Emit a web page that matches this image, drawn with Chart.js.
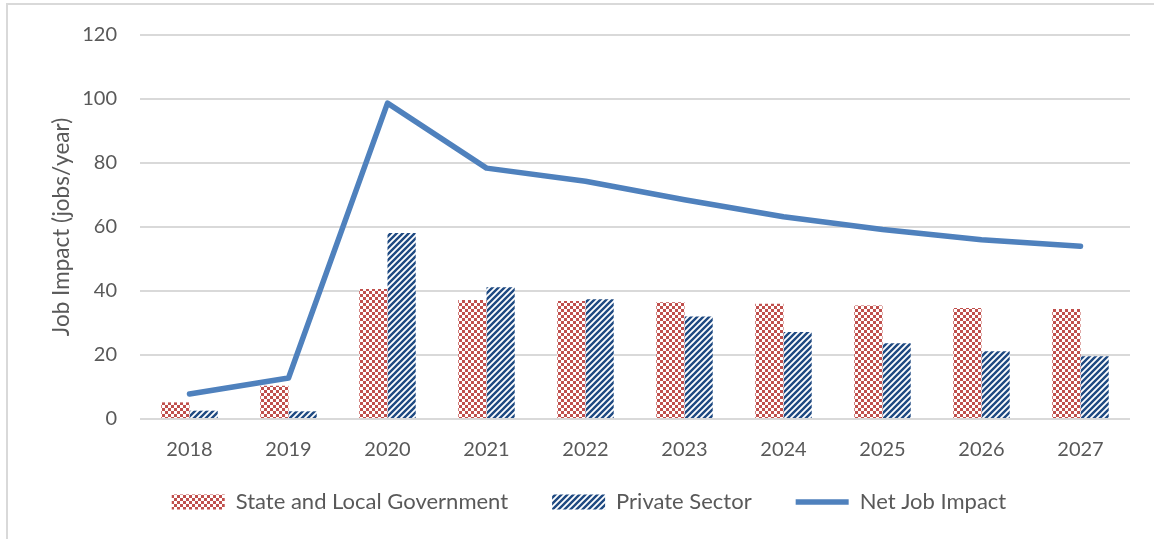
<!DOCTYPE html>
<html>
<head>
<meta charset="utf-8">
<script src="https://cdn.jsdelivr.net/npm/chart.js@4.4.0/dist/chart.umd.min.js"></script>
<style>
  html, body { margin: 0; padding: 0; background: #fff; overflow: hidden; }
  #frame { position: absolute; left: 6px; top: 3px; width: 1200px; height: 600px; border: 2px solid #d9d9d9; }
  #wrap { position: absolute; left: 0; top: 0; width: 1154px; height: 539px; }
</style>
</head>
<body>
<div id="frame"></div>
<div id="wrap"><canvas id="chart"></canvas></div>
<script>
// job impact chart
const years = ['2018', '2019', '2020', '2021', '2022', '2023', '2024', '2025', '2026', '2027'];
const stateLocal = [5.2, 10.4, 40.6, 37.2, 36.9, 36.5, 36.0, 35.5, 34.7, 34.4];
const privateSector = [2.6, 2.4, 58.1, 41.2, 37.4, 32.0, 27.2, 23.7, 21.2, 19.6];
const netImpact = [7.8, 12.8, 98.7, 78.4, 74.3, 68.5, 63.2, 59.2, 56.0, 54.0];
const yTicks = [0, 20, 40, 60, 80, 100, 120];

const TEXT = '#595959';
const FONT = "Lato, 'Noto Sans', sans-serif";

function checkerPattern(color) {
  const c = 3;
  const t = document.createElement('canvas');
  t.width = 2 * c; t.height = 2 * c;
  const g = t.getContext('2d');
  g.fillStyle = '#fff';
  g.fillRect(0, 0, 2 * c, 2 * c);
  g.fillStyle = color;
  g.fillRect(0, 0, c, c);
  g.fillRect(c, c, c, c);
  return g.createPattern(t, 'repeat');
}

function stripePattern(color) {
  const s = 6;
  const t = document.createElement('canvas');
  t.width = s; t.height = s;
  const g = t.getContext('2d');
  g.fillStyle = '#fff';
  g.fillRect(0, 0, s, s);
  g.strokeStyle = color;
  g.lineWidth = 2.4;
  g.beginPath();
  g.moveTo(-s, s); g.lineTo(s, -s);
  g.moveTo(0, 2 * s); g.lineTo(2 * s, 0);
  g.moveTo(-s / 2, s * 1.5); g.lineTo(s * 1.5, -s / 2);
  g.stroke();
  return g.createPattern(t, 'repeat');
}

// legend sits a bit higher than its layout box (keeps wide item spacing)
const legendShift = {
  id: 'legendShift',
  afterLayout(chart) {
    const lg = chart.legend;
    if (!lg) return;
    lg.top -= 15;
    lg.bottom -= 15;
  }
};

Chart.defaults.font.family = FONT;
Chart.defaults.color = TEXT;

new Chart(document.getElementById('chart'), {
  data: {
    labels: years,
    datasets: [
      {
        type: 'bar',
        label: 'State and Local Government',
        data: stateLocal,
        backgroundColor: checkerPattern('#c0504d'),
        pointStyle: 'rect',
        barPercentage: 1,
        categoryPercentage: 0.57,
        order: 2
      },
      {
        type: 'bar',
        label: 'Private Sector',
        data: privateSector,
        backgroundColor: stripePattern('#1f4a82'),
        pointStyle: 'rect',
        barPercentage: 1,
        categoryPercentage: 0.57,
        order: 2
      },
      {
        type: 'line',
        label: 'Net Job Impact',
        data: netImpact,
        borderColor: '#4f81bd',
        backgroundColor: '#4f81bd',
        borderWidth: 5.5,
        borderCapStyle: 'round',
        borderJoinStyle: 'round',
        pointRadius: 0,
        pointStyle: 'line',
        tension: 0,
        order: 1
      }
    ]
  },
  plugins: [legendShift],
  options: {
    responsive: true,
    maintainAspectRatio: false,
    animation: false,
    layout: { padding: { top: 33, right: 24, bottom: 1, left: 48 } },
    scales: {
      x: {
        grid: { display: false, drawTicks: false },
        border: { display: false },
        afterFit: scale => { scale.height = 43; },
        ticks: { font: { size: 20 }, color: TEXT, padding: 19 }
      },
      y: {
        min: 0,
        max: 120,
        afterBuildTicks: scale => { scale.ticks = yTicks.map(v => ({ value: v })); },
        afterFit: scale => { scale.width = 92; },
        grid: { color: '#d9d9d9', lineWidth: 2, drawTicks: false },
        border: { display: false },
        ticks: { font: { size: 20 }, color: TEXT, padding: 23 },
        title: { display: true, text: 'Job Impact (jobs/year)', font: { size: 22.5 }, color: TEXT, padding: { top: 0, bottom: 0 } }
      }
    },
    plugins: {
      legend: {
        position: 'bottom',
        labels: {
          usePointStyle: true,
          pointStyleWidth: 53,
          boxHeight: 15,
          font: { size: 22 },
          color: TEXT,
          padding: 44,
          sort: (a, b) => a.datasetIndex - b.datasetIndex
        }
      },
      tooltip: { enabled: false }
    }
  }
});
</script>
</body>
</html>
